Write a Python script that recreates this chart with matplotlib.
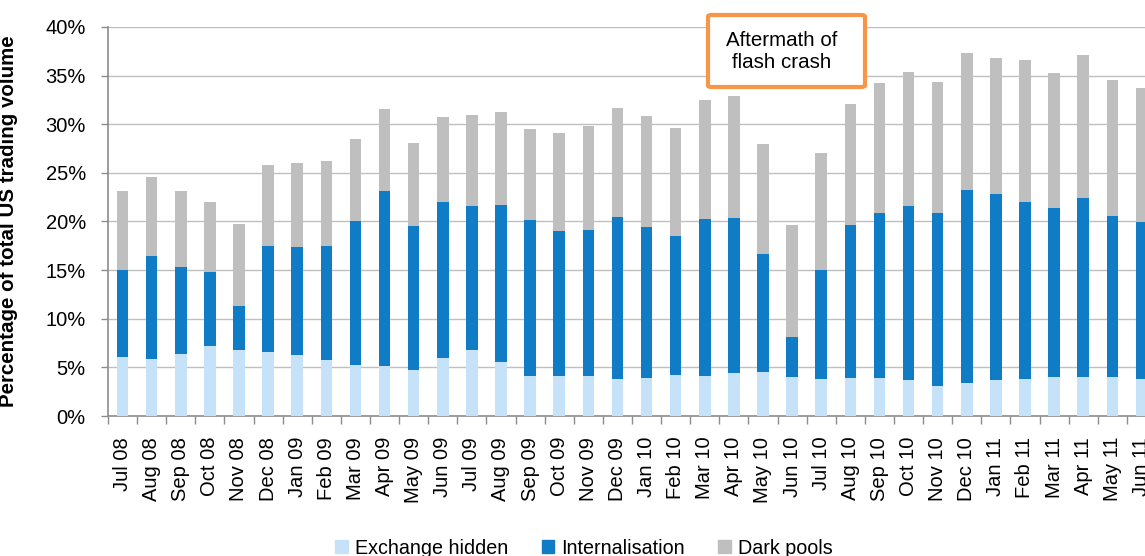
import matplotlib
matplotlib.use("Agg")
import matplotlib.pyplot as plt
from matplotlib.patches import FancyBboxPatch, Patch
from matplotlib.ticker import FixedLocator, FuncFormatter

plt.rcParams["font.family"] = ["Liberation Sans", "DejaVu Sans"]

# Month labels
months = [
    "Jul 08", "Aug 08", "Sep 08", "Oct 08", "Nov 08", "Dec 08",
    "Jan 09", "Feb 09", "Mar 09", "Apr 09", "May 09", "Jun 09",
    "Jul 09", "Aug 09", "Sep 09", "Oct 09", "Nov 09", "Dec 09",
    "Jan 10", "Feb 10", "Mar 10", "Apr 10", "May 10", "Jun 10",
    "Jul 10", "Aug 10", "Sep 10", "Oct 10", "Nov 10", "Dec 10",
    "Jan 11", "Feb 11", "Mar 11", "Apr 11", "May 11", "Jun 11",
]

# Share of volume (%) - each component
exchange_hidden = [
    6.1, 5.9, 6.4, 7.2, 6.8, 6.6, 6.3, 5.8, 5.2, 5.1, 4.7, 6.0,
    6.8, 5.6, 4.1, 4.1, 4.1, 3.8, 3.9, 4.2, 4.1, 4.4, 4.5, 4.0,
    3.8, 3.9, 3.9, 3.7, 3.1, 3.4, 3.7, 3.8, 4.0, 4.0, 4.0, 3.8,
]
internalisation = [
    8.9, 10.6, 8.9, 7.6, 4.5, 10.9, 11.1, 11.7, 14.9, 18.0, 14.8, 16.0,
    14.8, 16.1, 16.1, 14.9, 15.0, 16.7, 15.5, 14.3, 16.2, 16.0, 12.2, 4.1,
    11.2, 15.7, 17.0, 17.9, 17.8, 19.8, 19.1, 18.2, 17.4, 18.4, 16.6, 16.2,
]
dark_pools = [
    8.1, 8.1, 7.8, 7.2, 8.4, 8.3, 8.6, 8.7, 8.4, 8.5, 8.6, 8.7,
    9.4, 9.6, 9.3, 10.1, 10.7, 11.2, 11.4, 11.1, 12.2, 12.5, 11.3, 11.5,
    12.0, 12.5, 13.3, 13.8, 13.4, 14.1, 14.0, 14.6, 13.9, 14.7, 13.9, 13.7,
]

c_hidden = "#C5E2F8"
c_internal = "#117CC6"
c_dark = "#BFBFBF"

fig = plt.figure(figsize=(11.45, 5.56), dpi=100)
# axes right edge runs slightly past the figure edge (cropped look)
ax = fig.add_axes([108 / 1145, 140 / 556, 1048 / 1145, 389 / 556])

x = list(range(len(months)))
bottom2 = [a + b for a, b in zip(exchange_hidden, internalisation)]
w = 0.4
ax.bar(x, exchange_hidden, w, color=c_hidden, zorder=3)
ax.bar(x, internalisation, w, bottom=exchange_hidden, color=c_internal, zorder=3)
ax.bar(x, dark_pools, w, bottom=bottom2, color=c_dark, zorder=3)

ax.set_xlim(-0.5, len(months) - 0.5)
ax.set_ylim(0, 40)
ax.set_yticks(range(0, 41, 5))
ax.yaxis.set_major_formatter(FuncFormatter(lambda v, p: f"{int(v)}%"))
ax.grid(axis="y", color="#BFBFBF", lw=1, zorder=0)

ax.set_xticks(x)
ax.set_xticklabels(months, rotation=90)
ax.xaxis.set_minor_locator(FixedLocator([i - 0.5 for i in range(len(months) + 1)]))
ax.tick_params(axis="x", which="major", length=0, pad=15, labelsize=14.5)
ax.tick_params(axis="x", which="minor", length=6, color="#8C8C8C", width=1)
ax.tick_params(axis="y", length=5, color="#8C8C8C", width=1, pad=11, labelsize=14.5)

for s in ["top", "right"]:
    ax.spines[s].set_visible(False)
for s in ["left", "bottom"]:
    ax.spines[s].set_color("#8C8C8C")
    ax.spines[s].set_linewidth(1.2)

ax.set_ylabel("Percentage of total US trading volume", fontsize=14.8,
              fontweight="bold")
ax.yaxis.set_label_coords(-90 / 1048, 0.5)

# annotation box
box = FancyBboxPatch((708 / 1145, 1 - 87 / 556), 157 / 1145, 72 / 556,
                     boxstyle="round,pad=0,rounding_size=0.003",
                     transform=fig.transFigure, facecolor="white",
                     edgecolor="#F79646", lw=3, zorder=5)
fig.add_artist(box)
fig.text(782 / 1145, 1 - 52 / 556, "Aftermath of\nflash crash", ha="center",
         va="center", fontsize=14.8, linespacing=1.2, zorder=6)

# legend
handles = [Patch(color=c_hidden, label="Exchange hidden"),
           Patch(color=c_internal, label="Internalisation"),
           Patch(color=c_dark, label="Dark pools")]
fig.legend(handles=handles, loc="center", bbox_to_anchor=(584 / 1145, 1 - 548 / 556),
           ncol=3, frameon=False, fontsize=14.2, handlelength=0.65, handleheight=0.65,
           handletextpad=0.35, columnspacing=1.7, borderpad=0)

fig.savefig("out.png", dpi=100)
